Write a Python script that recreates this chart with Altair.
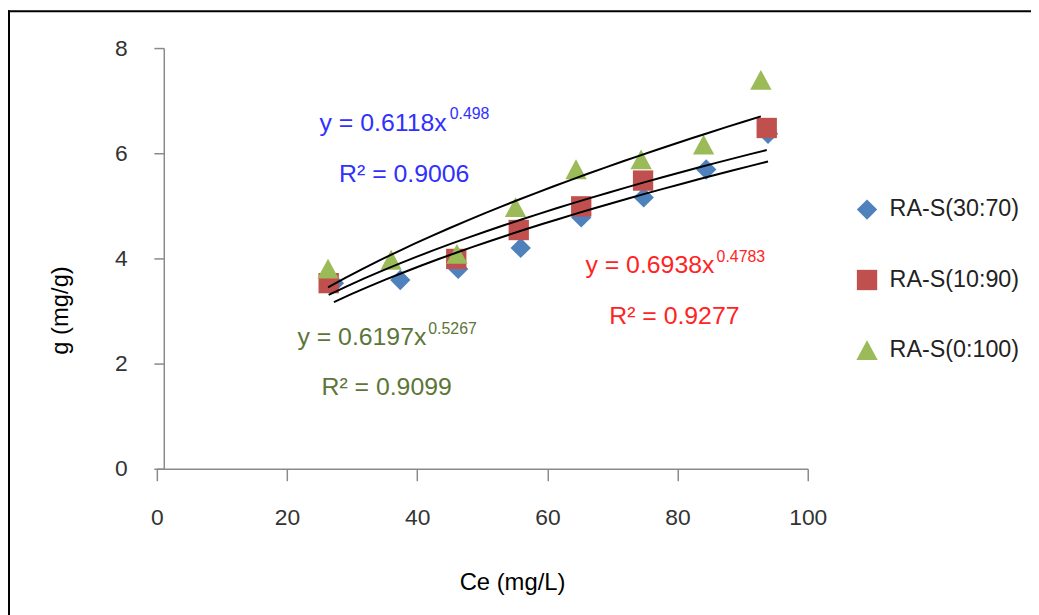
import altair as alt
import pandas as pd

# ---- data ----
series_names = ["RA-S(30:70)", "RA-S(10:90)", "RA-S(0:100)"]
series_colors = ["#4F81BD", "#C0504D", "#9BBB59"]
series_shapes = ["diamond", "square", "M0,-1L1.05,0.95L-1.05,0.95Z"]

ce_3070 = [27.2, 37.4, 46.3, 55.9, 65.2, 74.8, 84.4, 93.9]
q_3070 = [3.53, 3.59, 3.80, 4.20, 4.78, 5.16, 5.69, 6.37]

ce_1090 = [26.4, 46.0, 55.6, 65.2, 74.7, 93.7]
q_1090 = [3.53, 3.99, 4.54, 4.99, 5.48, 6.48]

ce_0100 = [26.3, 36.0, 46.1, 55.1, 64.4, 74.4, 84.0, 92.8]
q_0100 = [3.80, 3.97, 4.08, 4.97, 5.69, 5.88, 6.16, 7.39]

x_ticks = [0, 20, 40, 60, 80, 100]
y_ticks = [0, 2, 4, 6, 8]

# trendline annotations (positions in data units)
ann_text = ["y = 0.6118x", "0.498", "R² = 0.9006",
            "y = 0.6938x", "0.4783", "R² = 0.9277",
            "y = 0.6197x", "0.5267", "R² = 0.9099"]
ann_x = [25.0, 45.0, 28.0, 65.85, 86.0, 69.5, 21.6, 41.7, 25.3]
ann_y = [6.57, 6.74, 5.60, 3.87, 4.02, 2.91, 2.51, 2.66, 1.55]
ann_size = [25, 16, 25, 25, 16, 25, 25, 16, 25]
ann_color = ["#3030FF", "#3030FF", "#3030FF",
             "#FF2424", "#FF2424", "#FF2424",
             "#5C7639", "#5C7639", "#5C7639"]

FONT = "Liberation Sans"
AXIS_GRAY = "#8A8A8A"

rows = []
for name, xs, ys in zip(series_names, [ce_3070, ce_1090, ce_0100], [q_3070, q_1090, q_0100]):
    for xv, yv in zip(xs, ys):
        rows.append({"series": name, "ce": xv, "q": yv})
df = pd.DataFrame(rows)
df["ord"] = range(len(df))

ann = pd.DataFrame({"text": ann_text, "x": ann_x, "y": ann_y,
                    "fs": ann_size, "col": ann_color})

x_scale = alt.Scale(domain=[0, 100], nice=False)
y_scale = alt.Scale(domain=[0, 8], nice=False)

x_axis = alt.Axis(values=x_ticks, grid=False, tickSize=12, tickColor=AXIS_GRAY,
                  tickWidth=1.5, domainColor=AXIS_GRAY, domainWidth=1.5,
                  labelFont=FONT, labelFontSize=23, labelColor="#333333",
                  labelPadding=26, labelFlush=False,
                  titleFont=FONT, titleFontSize=24, titleFontWeight="normal",
                  titleColor="#000000", titleX=358, titleY=115,
                  titleBaseline="middle", titleAlign="center")
y_axis = alt.Axis(values=y_ticks, grid=False, offset=-7, tickSize=10,
                  tickColor=AXIS_GRAY, tickWidth=1.5, domainColor=AXIS_GRAY,
                  domainWidth=1.5, labelFont=FONT, labelFontSize=23,
                  labelColor="#333333", labelPadding=27, labelFlush=False,
                  titleFont=FONT, titleFontSize=24, titleFontWeight="normal",
                  titleColor="#000000", titleX=-104, titleY=264,
                  titleBaseline="middle", titleAlign="center")

legend = alt.Legend(orient="none", legendX=704, legendY=151, title=None,
                    labelFont=FONT, labelFontSize=23.5, labelColor="#222222",
                    symbolSize=420, rowPadding=46, labelOffset=11, padding=0,
                    symbolStrokeWidth=0, symbolOpacity=1)

base = alt.Chart(df)

points = base.mark_point(filled=True, opacity=1, size=420).encode(
    x=alt.X("ce:Q", scale=x_scale, axis=x_axis, title="Ce (mg/L)"),
    y=alt.Y("q:Q", scale=y_scale, axis=y_axis, title="g (mg/g)"),
    color=alt.Color("series:N", scale=alt.Scale(domain=series_names, range=series_colors),
                    legend=legend, title=None),
    shape=alt.Shape("series:N", scale=alt.Scale(domain=series_names, range=series_shapes),
                    legend=legend, title=None),
    order=alt.Order("ord:Q"),
)

lines = base.transform_regression(
    "ce", "q", method="pow", groupby=["series"]
).mark_line(color="black", strokeWidth=2).encode(
    x=alt.X("ce:Q", scale=x_scale),
    y=alt.Y("q:Q", scale=y_scale),
    detail="series:N",
)

texts = alt.Chart(ann).mark_text(align="left", baseline="middle", font=FONT).encode(
    x=alt.X("x:Q", scale=x_scale),
    y=alt.Y("y:Q", scale=y_scale),
    text="text:N",
    size=alt.Size("fs:Q", scale=None, legend=None),
    color=alt.Color("col:N", scale=None, legend=None),
)

one = pd.DataFrame({"k": [0]})
frame_left = alt.Chart(one).mark_rule(color="black", strokeWidth=2).encode(
    x=alt.value(-149), y=alt.value(-38), y2=alt.value(620))
frame_top = alt.Chart(one).mark_rule(color="black", strokeWidth=2).encode(
    x=alt.value(-150), x2=alt.value(900), y=alt.value(-37))

chart = alt.layer(points, lines, texts, frame_left, frame_top).properties(
    width=656, height=424,
    autosize=alt.AutoSizeParams(type="none"),
    padding={"left": 150, "top": 38, "right": 225, "bottom": 145},
).configure_view(stroke=None)

chart.save("out.html", embed_options={"renderer": "svg", "actions": False})
